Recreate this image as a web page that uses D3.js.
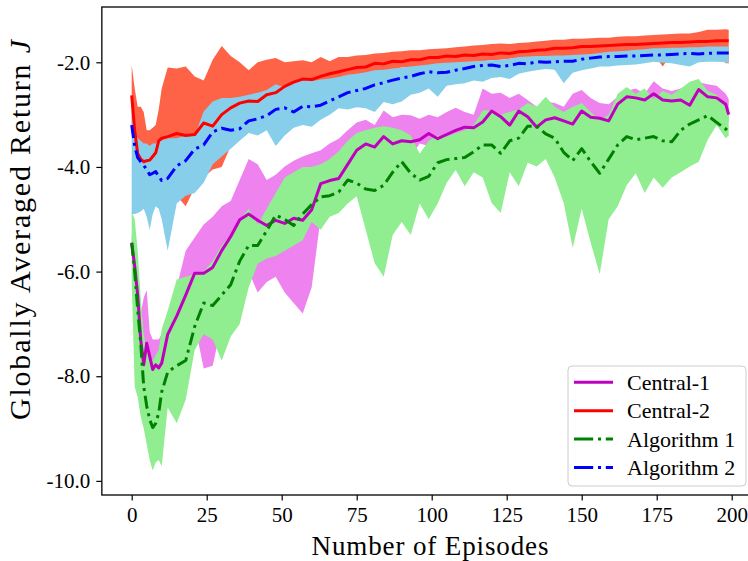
<!DOCTYPE html>
<html>
<head>
<meta charset="utf-8">
<script src="https://cdn.jsdelivr.net/npm/d3@7"></script>
<style>
  body { margin: 0; background: #fff; }
  svg text { font-family: "Liberation Serif", "DejaVu Serif", serif; fill: #000; }
</style>
</head>
<body>
<div id="chart"></div>
<script>
// episodes (dense at the start, every 3 after)
const episodes = [0,1,2,3,4,5,6,7,8,9,10,
  12,15,18,21,24,27,30,33,36,39,
  42,45,48,51,54,57,60,63,66,69,
  72,75,78,81,84,87,90,93,96,99,
  102,105,108,111,114,117,120,123,126,129,
  132,135,138,141,144,147,150,153,156,159,
  162,165,168,171,174,177,180,183,186,189,
  192,195,198,199]

const central1Mean = [-5.45,-5.9,-6.45,-7.3,-7.78,-7.37,-7.62,-7.87,-7.78,-7.84,-7.75,
  -7.2,-6.85,-6.45,-6.03,-6.03,-5.92,-5.6,-5.33,-5.01,-4.9,
  -5.02,-5.12,-5.02,-5.08,-4.98,-5.02,-4.82,-4.32,-4.26,-4.22,
  -3.95,-3.68,-3.56,-3.62,-3.42,-3.56,-3.5,-3.52,-3.48,-3.36,
  -3.46,-3.38,-3.3,-3.24,-3.25,-3.14,-2.93,-3.04,-3.2,-2.93,
  -3.04,-3.24,-3.1,-3.06,-3.12,-3.18,-2.93,-3.05,-3.07,-3.12,
  -2.8,-2.66,-2.68,-2.72,-2.6,-2.72,-2.74,-2.72,-2.82,-2.52,
  -2.66,-2.68,-2.8,-3.0]
const central1Upper = [-5.3,-5.6,-6.1,-6.8,-6.5,-6.35,-7.15,-7.3,-7.3,-7.3,-7.2,
  -6.9,-6.3,-5.6,-5.35,-5.1,-4.95,-4.75,-4.65,-4.25,-3.85,
  -3.95,-4.25,-4.15,-3.99,-3.88,-3.8,-3.74,-3.68,-3.55,-3.46,
  -3.3,-3.15,-3.1,-3.2,-2.92,-3.05,-3.0,-3.01,-3.08,-3.0,
  -3.05,-2.95,-2.87,-2.95,-3.0,-2.5,-2.6,-2.58,-2.68,-2.6,
  -2.72,-2.85,-2.75,-2.78,-2.85,-2.6,-2.53,-2.68,-2.78,-2.8,
  -2.66,-2.55,-2.5,-2.6,-2.36,-2.5,-2.55,-2.5,-2.6,-2.38,
  -2.42,-2.45,-2.6,-2.7]
const central1Lower = [-5.6,-6.2,-6.75,-7.6,-7.95,-7.9,-7.95,-8.0,-7.95,-7.95,-7.9,
  -7.7,-7.4,-7.2,-7.0,-7.85,-7.8,-7.0,-6.6,-6.3,-6.0,
  -6.4,-6.2,-6.1,-6.4,-6.6,-6.8,-6.3,-4.95,-4.85,-4.7,
  -4.5,-4.3,-4.1,-4.0,-3.9,-3.9,-3.85,-3.8,-3.55,-3.6,
  -3.7,-3.65,-3.6,-3.55,-3.55,-3.45,-3.3,-3.35,-3.5,-3.25,
  -3.3,-3.4,-3.35,-3.3,-3.35,-3.35,-3.2,-3.3,-3.3,-3.32,
  -3.05,-2.95,-2.95,-3.0,-2.9,-2.95,-2.97,-2.95,-3.05,-2.75,
  -2.85,-2.9,-3.0,-3.15]

const central2Mean = [-2.63,-3.3,-3.75,-3.85,-3.9,-3.88,-3.87,-3.8,-3.73,-3.5,-3.45,
  -3.42,-3.36,-3.4,-3.38,-3.16,-3.22,-3.0,-2.87,-2.78,-2.74,
  -2.75,-2.62,-2.58,-2.46,-2.38,-2.32,-2.33,-2.27,-2.22,-2.18,
  -2.14,-2.1,-2.09,-2.02,-2.03,-1.98,-1.99,-1.95,-1.95,-1.91,
  -1.91,-1.88,-1.89,-1.86,-1.87,-1.84,-1.85,-1.82,-1.83,-1.8,
  -1.79,-1.77,-1.76,-1.73,-1.73,-1.72,-1.7,-1.7,-1.69,-1.68,
  -1.67,-1.66,-1.66,-1.65,-1.64,-1.63,-1.62,-1.62,-1.61,-1.6,
  -1.6,-1.59,-1.59,-1.59]
const central2Upper = [-2.05,-2.5,-2.85,-2.85,-2.95,-3.3,-3.3,-3.25,-3.2,-2.9,-2.5,
  -2.1,-2.12,-2.08,-2.27,-2.35,-1.95,-1.69,-1.88,-2.0,-2.15,
  -2.0,-1.95,-1.92,-2.0,-1.98,-1.96,-2.0,-1.9,-1.98,-1.9,
  -1.9,-1.87,-1.86,-1.83,-1.82,-1.8,-1.79,-1.77,-1.77,-1.75,
  -1.74,-1.73,-1.71,-1.7,-1.68,-1.67,-1.65,-1.64,-1.65,-1.63,
  -1.62,-1.6,-1.59,-1.57,-1.57,-1.55,-1.55,-1.54,-1.53,-1.53,
  -1.51,-1.5,-1.5,-1.49,-1.48,-1.47,-1.46,-1.45,-1.45,-1.42,
  -1.38,-1.38,-1.37,-1.38]
const central2Lower = [-3.3,-3.9,-4.0,-4.05,-4.1,-4.1,-4.1,-4.2,-4.2,-4.3,-4.35,
  -4.4,-4.55,-4.75,-4.4,-4.2,-4.05,-4.0,-3.6,-3.45,-3.3,
  -3.3,-3.2,-3.1,-3.05,-2.95,-2.85,-2.53,-2.5,-2.45,-2.42,
  -2.35,-2.28,-2.24,-2.2,-2.18,-2.14,-2.1,-2.09,-2.08,-2.06,
  -2.04,-2.03,-2.02,-2.0,-1.99,-1.98,-1.96,-1.95,-1.93,-1.92,
  -1.92,-1.9,-1.9,-2.15,-1.9,-1.88,-1.88,-1.87,-1.87,-2.08,
  -1.86,-1.85,-1.85,-1.84,-1.84,-2.08,-1.84,-1.83,-1.83,-1.82,
  -1.82,-1.82,-2.02,-2.02]

const algo1Mean = [-5.45,-6.0,-6.73,-7.37,-8.19,-8.57,-8.83,-8.98,-8.9,-8.7,-8.3,
  -7.92,-7.8,-7.7,-7.05,-6.6,-6.65,-6.45,-6.25,-5.8,-5.5,
  -5.5,-5.22,-4.92,-5.0,-5.12,-4.9,-4.72,-4.57,-4.55,-4.48,
  -4.25,-4.31,-4.42,-4.45,-4.35,-4.1,-3.9,-4.12,-4.25,-4.18,
  -3.92,-3.86,-3.84,-3.82,-3.71,-3.58,-3.58,-3.74,-3.5,-3.45,
  -3.22,-3.22,-3.37,-3.45,-3.72,-3.88,-3.65,-3.9,-4.12,-3.85,
  -3.58,-3.42,-3.48,-3.45,-3.42,-3.5,-3.52,-3.3,-3.18,-3.1,
  -3.02,-3.15,-3.28,-3.2]
const algo1Upper = [-4.85,-5.0,-5.6,-6.5,-7.2,-7.5,-7.6,-7.7,-7.6,-7.5,-7.1,
  -6.75,-6.15,-6.1,-6.05,-6.0,-5.8,-5.5,-5.3,-5.0,-4.8,
  -5.1,-4.8,-4.5,-4.2,-4.1,-4.0,-4.0,-3.95,-3.85,-3.7,
  -3.5,-3.35,-3.3,-3.25,-3.22,-3.25,-3.3,-3.4,-3.75,-3.5,
  -3.4,-3.42,-3.35,-3.3,-3.2,-2.92,-2.92,-3.0,-2.95,-2.9,
  -2.78,-2.85,-2.66,-2.85,-2.95,-2.85,-2.78,-2.95,-3.1,-3.0,
  -2.6,-2.47,-2.6,-2.5,-2.7,-2.55,-2.62,-2.5,-2.37,-2.32,
  -2.55,-2.62,-2.85,-2.97]
const algo1Lower = [-6.2,-8.2,-8.4,-8.77,-9.0,-9.3,-9.6,-9.8,-9.65,-9.6,-9.72,
  -8.6,-8.9,-8.45,-7.5,-7.2,-7.3,-7.7,-7.24,-7.0,-6.3,
  -5.85,-5.75,-5.7,-5.6,-5.5,-5.4,-5.05,-5.2,-4.95,-4.88,
  -4.7,-4.56,-5.2,-5.84,-6.1,-5.3,-5.05,-5.3,-4.7,-5.0,
  -4.7,-4.3,-4.06,-4.37,-4.1,-4.2,-4.69,-4.88,-4.1,-4.37,
  -3.92,-3.99,-3.85,-4.2,-4.69,-5.55,-4.8,-5.45,-6.05,-5.0,
  -4.75,-4.35,-4.12,-4.5,-4.2,-4.4,-4.2,-4.1,-3.99,-3.9,
  -3.48,-3.2,-3.45,-3.4]

const algo2Mean = [-3.2,-3.6,-3.82,-3.9,-3.97,-4.05,-4.15,-4.12,-4.09,-4.18,-4.26,
  -4.22,-3.98,-3.88,-3.66,-3.58,-3.33,-3.26,-3.3,-3.27,-3.12,
  -3.08,-3.02,-2.9,-2.87,-2.95,-2.84,-2.85,-2.82,-2.74,-2.66,
  -2.58,-2.54,-2.5,-2.43,-2.39,-2.34,-2.3,-2.27,-2.22,-2.18,
  -2.2,-2.19,-2.15,-2.12,-2.08,-2.06,-2.05,-2.08,-2.06,-2.02,
  -2.03,-1.99,-2.0,-1.99,-1.98,-1.98,-1.94,-1.92,-1.9,-1.89,
  -1.89,-1.88,-1.88,-1.87,-1.86,-1.86,-1.85,-1.84,-1.83,-1.84,
  -1.83,-1.82,-1.82,-1.82]
const algo2Upper = [-2.9,-3.3,-3.45,-3.5,-3.55,-3.55,-3.6,-3.55,-3.55,-3.5,-3.5,
  -3.45,-3.45,-3.4,-3.4,-2.94,-2.75,-2.68,-2.68,-2.66,-2.62,
  -2.58,-2.53,-2.42,-2.48,-2.38,-2.33,-2.36,-2.33,-2.31,-2.28,
  -2.24,-2.22,-2.19,-2.15,-2.14,-2.12,-2.1,-2.08,-2.06,-2.04,
  -2.02,-2.01,-2.0,-1.99,-1.98,-1.97,-1.96,-1.95,-1.93,-1.9,
  -1.89,-1.88,-1.88,-1.87,-1.87,-1.86,-1.85,-1.84,-1.82,-1.8,
  -1.79,-1.78,-1.76,-1.75,-1.73,-1.73,-1.72,-1.72,-1.71,-1.71,
  -1.7,-1.7,-1.7,-1.7]
const algo2Lower = [-4.9,-4.9,-4.88,-4.85,-4.8,-4.95,-5.2,-4.9,-4.75,-4.8,-5.0,
  -5.6,-4.7,-4.55,-4.5,-4.3,-3.95,-3.8,-3.65,-3.5,-3.35,
  -3.4,-3.3,-3.6,-3.4,-3.25,-3.2,-3.23,-3.1,-3.0,-2.88,
  -2.9,-2.86,-2.88,-2.95,-2.76,-2.8,-2.75,-2.62,-2.58,-2.5,
  -2.66,-2.45,-2.42,-2.4,-2.35,-2.37,-2.3,-2.28,-2.32,-2.22,
  -2.18,-2.15,-2.13,-2.14,-2.4,-2.2,-2.15,-2.12,-2.08,-2.08,
  -2.06,-2.05,-2.04,-2.02,-1.99,-2.01,-2.02,-2.05,-2.08,-2.0,
  -1.99,-1.99,-2.0,-2.02]

const seriesNames = ["Central-1", "Central-2", "Algorithm 1", "Algorithm 2"]
const xTicks = [0, 25, 50, 75, 100, 125, 150, 175, 200]
const yTicks = [-10, -8, -6, -4, -2]

const series = [
  {name: seriesNames[0], mean: central1Mean, upper: central1Upper, lower: central1Lower,
    line: "#bf00bf", band: "violet", dash: null},
  {name: seriesNames[1], mean: central2Mean, upper: central2Upper, lower: central2Lower,
    line: "#ff0000", band: "tomato", dash: null},
  {name: seriesNames[2], mean: algo1Mean, upper: algo1Upper, lower: algo1Lower,
    line: "#008000", band: "lightgreen", dash: "13,4.8,3,4.8"},
  {name: seriesNames[3], mean: algo2Mean, upper: algo2Upper, lower: algo2Lower,
    line: "#0000ff", band: "skyblue", dash: "13,4.8,3,4.8"}
]

const W = 748, H = 561
const margin = {top: 7, left: 101.85}
const plotW = 656.7, plotH = 488

const svg = d3.select("#chart").append("svg")
  .attr("width", W).attr("height", H)

const x = d3.scaleLinear().domain([-9.95, 208.95]).range([0, plotW])
const y = d3.scaleLinear().domain([-10.27, -0.943]).range([plotH, 0])

const g = svg.append("g").attr("transform", `translate(${margin.left},${margin.top})`)

g.append("clipPath").attr("id", "clip")
  .append("rect").attr("width", plotW).attr("height", plotH)

const content = g.append("g").attr("clip-path", "url(#clip)")

const area = d3.area()
  .x(d => x(d.ep)).y0(d => y(d.lo)).y1(d => y(d.hi))
const line = d3.line()
  .x(d => x(d.ep)).y(d => y(d.v))

// bands first, then lines on top
series.forEach(s => {
  const rows = episodes.map((ep, i) => ({ep, lo: s.lower[i], hi: s.upper[i]}))
  content.append("path").datum(rows)
    .attr("d", area).attr("fill", s.band).attr("stroke", "none")
})
series.forEach(s => {
  const rows = episodes.map((ep, i) => ({ep, v: s.mean[i]}))
  content.append("path").datum(rows)
    .attr("d", line).attr("fill", "none")
    .attr("stroke", s.line).attr("stroke-width", 3)
    .attr("stroke-linejoin", "round")
    .attr("stroke-dasharray", s.dash)
})

// axes
const xAxis = g.append("g").attr("transform", `translate(0,${plotH})`)
  .call(d3.axisBottom(x).tickValues(xTicks).tickSize(5.5).tickPadding(7).tickSizeOuter(0))
const yAxis = g.append("g")
  .call(d3.axisLeft(y).tickValues(yTicks).tickFormat(d => d.toFixed(1)).tickSize(5.5).tickPadding(6).tickSizeOuter(0))

;[xAxis, yAxis].forEach(a => {
  a.select(".domain").remove()
  a.selectAll("line").attr("stroke", "#000").attr("stroke-width", 1.2)
  a.selectAll("text").attr("font-size", 21).style("font-family", "'Liberation Serif', serif")
})

g.append("rect")
  .attr("width", plotW).attr("height", plotH)
  .attr("fill", "none").attr("stroke", "#000").attr("stroke-width", 1.3)

// axis labels
svg.append("text")
  .attr("x", 430).attr("y", 555)
  .attr("text-anchor", "middle")
  .attr("font-size", 27)
  .attr("textLength", 237).attr("lengthAdjust", "spacing")
  .text("Number of Episodes")

const yl = svg.append("text")
  .attr("transform", "translate(30,230) rotate(-90)")
  .attr("text-anchor", "middle")
  .attr("font-size", 30)
  .attr("textLength", 380).attr("lengthAdjust", "spacing")
yl.append("tspan").text("Globally Averaged Return ")
yl.append("tspan").attr("font-style", "italic").text("J")

// legend
const legend = svg.append("g").attr("transform", "translate(568,366)")
legend.append("rect")
  .attr("width", 178).attr("height", 120).attr("rx", 4)
  .attr("fill", "#fff").attr("fill-opacity", 0.8)
  .attr("stroke", "#cccccc").attr("stroke-width", 1)

series.forEach((s, i) => {
  const cy = 16.3 + i * 28.4
  legend.append("line")
    .attr("x1", 6).attr("x2", 45).attr("y1", cy).attr("y2", cy)
    .attr("stroke", s.line).attr("stroke-width", 3)
    .attr("stroke-dasharray", s.dash ? "19.2,4.8,3,4.8" : null)
  legend.append("text")
    .attr("x", 59).attr("y", cy + 7.5)
    .attr("font-size", 22)
    .text(s.name)
})
</script>
</body>
</html>
